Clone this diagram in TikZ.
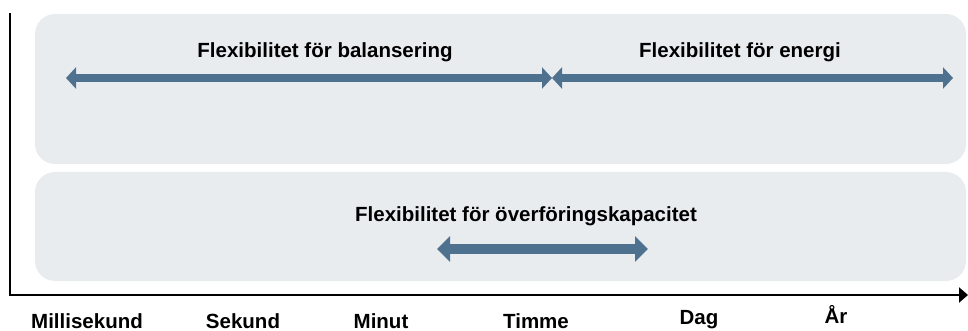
\documentclass[tikz,border=0pt]{standalone}
\usepackage{fontspec}
\setmainfont{Liberation Sans}
\usetikzlibrary{arrows.meta}
\definecolor{flexblue}{HTML}{4E7190}
\definecolor{panelgrey}{HTML}{E9ECEF}

\begin{document}
\begin{tikzpicture}[x=1pt, y=-1pt, thick, panel/.style = {fill=panelgrey, rounded corners=20pt}, span/.style = {draw=flexblue, line width=8pt, {Triangle[length=10pt, width=21pt]}-{Triangle[length=10pt, width=21pt]}}, main/.style = {font=\bfseries\fontsize{20.5}{23}\selectfont, inner sep=0pt, anchor=base}]
\useasboundingbox (0,0) rectangle (968,331);
\fill[panel] (35,14) rectangle (966,164);
\fill[panel] (35,172) rectangle (966,281);
% axes
\coordinate (top) at (10,13);
\coordinate (o) at (10,295);
\coordinate (end) at (968,295);
\draw[line width=2.2pt, -{Triangle[length=9pt, width=15pt]}] (top) -- (o) -- (end);
% arrows
\coordinate (a1) at (66,78);
\coordinate (a2) at (552,78);
\coordinate (a3) at (953,78);
\coordinate (b1) at (437,249);
\coordinate (b2) at (648,249);
\draw[span] (a1) -- (a2);
\draw[span] (a2) -- (a3);
\draw[span, line width=10pt, {Triangle[length=13pt, width=25pt]}-{Triangle[length=13pt, width=25pt]}] (b1) -- (b2);
% labels
\node[main] (bal) at (325,58) {Flexibilitet för balansering};
\node[main] (en) at (740,58) {Flexibilitet för energi};
\node[main] (tr) at (526,221) {Flexibilitet för överföringskapacitet};
\node[main] (1) at (87,328) {Millisekund};
\node[main] (2) at (243,328) {Sekund};
\node[main] (3) at (381,328) {Minut};
\node[main] (4) at (536,328) {Timme};
\node[main] (5) at (699,324) {Dag};
\node[main] (6) at (836,323) {År};
\end{tikzpicture}
\end{document}
